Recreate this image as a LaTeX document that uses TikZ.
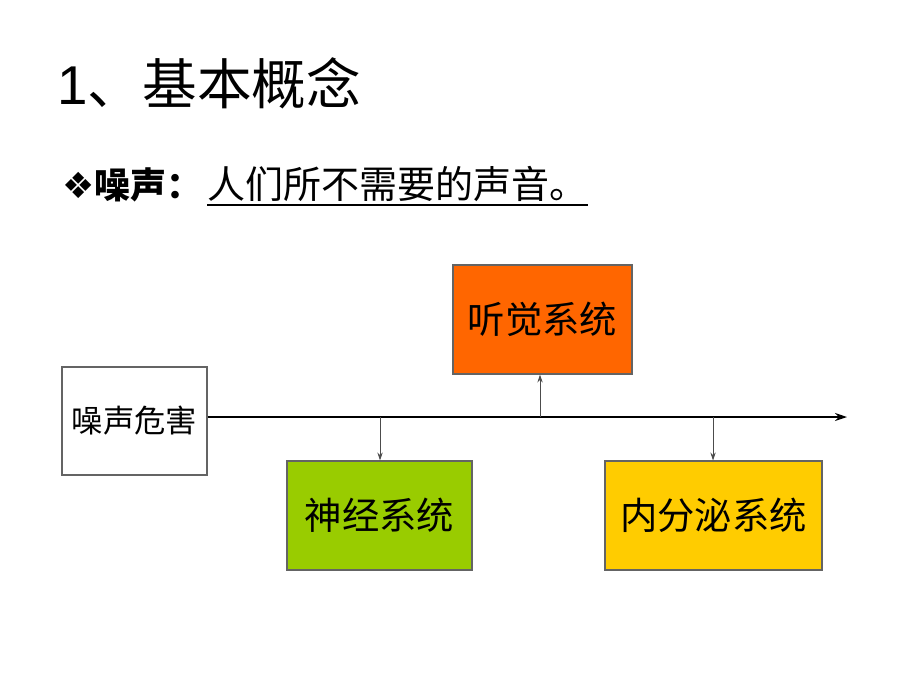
\documentclass[tikz,border=0pt]{standalone}
\usepackage{fontspec}
\setmainfont{Liberation Sans}
\newfontfamily\cjk{Noto Sans CJK SC}
\newfontfamily\symb{DejaVu Sans}
\usetikzlibrary{positioning}
\usetikzlibrary{arrows.meta}

\definecolor{hearorange}{RGB}{255,102,0}
\definecolor{nervegreen}{RGB}{153,204,0}
\definecolor{endoyellow}{RGB}{255,204,0}
\definecolor{edgegray}{RGB}{100,100,100}

\tikzset{
  sysbox/.style={draw=edgegray, line width=0.8pt, minimum height=81.75pt,
    font=\cjk\fontsize{28}{32}\selectfont, inner sep=0pt},
  branch/.style={draw=black!70, line width=0.6pt, -{Stealth[length=6pt,width=4pt]}}
}

\begin{document}
\begin{tikzpicture}[x=0.75pt,y=-0.75pt]
      \useasboundingbox (0,0) rectangle (920,690);

      % heading lines
      \node[anchor=base west, inner sep=0pt] (title) at (57,104)
            {\fontsize{41}{46}\selectfont 1\cjk 、基本概念};
      \node[anchor=base west, inner sep=0pt] (term) at (62,198)
            {\fontsize{27}{32}\selectfont\symb ❖\cjk\bfseries 噪声：};
      \node[anchor=base west, inner sep=0pt] (defn) at (207,198)
            {\cjk\fontsize{28.5}{32}\selectfont 人们所不需要的声音。};
      \draw[line width=1.5pt] ([yshift=-5pt]defn.base west) -- ([yshift=-5pt]defn.base east);

      % boxes
      \node[sysbox, fill=white, minimum width=108.75pt, minimum height=81pt,
            font=\cjk\fontsize{23.5}{28}\selectfont] (noise) at (134.5,421) {噪声危害};
      \node[sysbox, fill=hearorange, minimum width=134.25pt] (hear) at (542.5,319.5) {听觉系统};
      \node[sysbox, fill=nervegreen, minimum width=138.75pt] (nerve) at (379.5,515.5) {神经系统};
      \node[sysbox, fill=endoyellow, minimum width=162.75pt] (endo) at (713.5,515.5) {内分泌系统};

      % main axis
      \coordinate (tip) at (847,417);
      \draw[line width=2pt, -{Stealth[length=9pt,width=6pt]}] (noise.east |- tip) -- (tip);
      \coordinate (j1) at (380,417);
      \coordinate (j2) at (540,417);
      \coordinate (j3) at (713,417);

      \draw[branch] (j1) -- (j1 |- nerve.north);
      \draw[branch] (j2) -- (j2 |- hear.south);
      \draw[branch] (j3) -- (j3 |- endo.north);
\end{tikzpicture}
\end{document}
